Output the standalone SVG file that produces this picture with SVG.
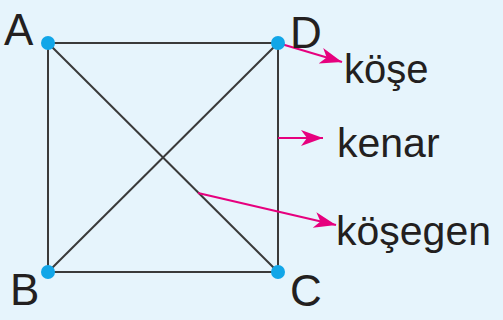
<svg xmlns="http://www.w3.org/2000/svg" width="503" height="320" viewBox="0 0 503 320">
<style>
.edge{stroke:#3a3a3a;stroke-width:2;fill:none}
.dot{fill:#12a6e8}
.lbl{font-family:"Liberation Sans","DejaVu Sans",sans-serif;fill:#231f20}
.ptr{stroke:#e6007e;stroke-width:2;fill:none}
</style>
<defs>
<marker id="ah" markerUnits="userSpaceOnUse" markerWidth="24" markerHeight="18" refX="22" refY="8" orient="auto">
<path d="M0,0 L22,8 L0,16 L6,8 Z" fill="#e6007e"/>
</marker>
</defs>
<rect x="0" y="0" width="503" height="320" fill="#e6f4fc"/>
<g id="square">
<rect x="48" y="43" width="230" height="229" fill="#ffffff" class="edge"/>
</g>
<g id="connectors">
<line class="edge" x1="48" y1="43" x2="278" y2="272"/>
<line class="edge" x1="48" y1="272" x2="278" y2="43"/>
<line class="ptr" x1="278" y1="43" x2="342" y2="62" marker-end="url(#ah)"/>
<line class="ptr" x1="278" y1="138" x2="323" y2="138" marker-end="url(#ah)"/>
<line class="ptr" x1="198" y1="193" x2="336" y2="225" marker-end="url(#ah)"/>
</g>
<g id="A"><circle class="dot" cx="48" cy="43" r="7"/><text class="lbl" x="4" y="45" font-size="44">A</text></g>
<g id="D"><circle class="dot" cx="278" cy="43" r="7"/><text class="lbl" x="290" y="48" font-size="44">D</text></g>
<g id="B"><circle class="dot" cx="48" cy="272" r="7"/><text class="lbl" x="10" y="305" font-size="44">B</text></g>
<g id="C"><circle class="dot" cx="278" cy="272" r="7"/><text class="lbl" x="290" y="306" font-size="44">C</text></g>
<g id="kose"><text class="lbl" x="344" y="83" font-size="40">köşe</text></g>
<g id="kenar"><text class="lbl" x="337" y="157" font-size="41">kenar</text></g>
<g id="kosegen"><text class="lbl" x="336" y="245" font-size="41">köşegen</text></g>
</svg>
